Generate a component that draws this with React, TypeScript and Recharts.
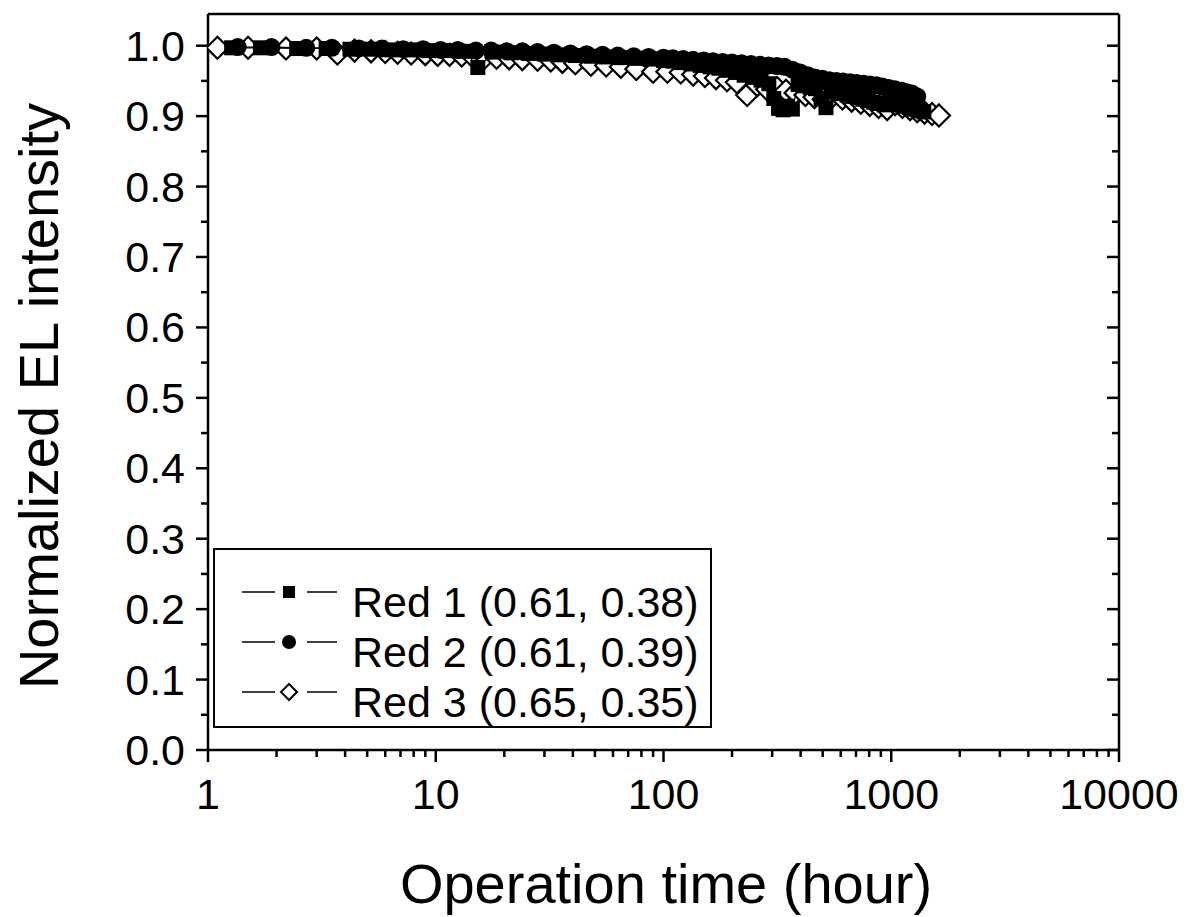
import React from 'react';
import { ScatterChart, Scatter, XAxis, YAxis, Legend } from 'recharts';

const FONT = '"Liberation Sans", Arial, Helvetica, sans-serif';

// Red 1 (filled squares)
const RED1_T = [1.27, 1.7, 2.45, 3.3, 4.2, 5.2, 6.4, 7.8, 9.5, 11.5, 13.5, 15.3, 18, 21.5, 25.5, 30, 35, 41, 48, 56, 65, 75, 87, 100, 110, 120, 132, 145, 160, 175, 190, 208, 226, 246, 268, 290, 305, 320, 335, 350, 368, 390, 415, 440, 465, 492, 517, 545, 575, 605, 640, 675, 710, 750, 790, 835, 880, 930, 980, 1030, 1085, 1140, 1200, 1260, 1320, 1390];
const RED1_V = [0.997, 0.997, 0.996, 0.996, 0.995, 0.995, 0.994, 0.994, 0.993, 0.993, 0.992, 0.969, 0.991, 0.99, 0.989, 0.988, 0.987, 0.986, 0.985, 0.984, 0.983, 0.982, 0.981, 0.979, 0.978, 0.976, 0.974, 0.972, 0.97, 0.968, 0.965, 0.962, 0.958, 0.955, 0.951, 0.946, 0.925, 0.911, 0.909, 0.914, 0.91, 0.945, 0.943, 0.941, 0.939, 0.925, 0.912, 0.936, 0.934, 0.932, 0.93, 0.928, 0.926, 0.924, 0.922, 0.92, 0.918, 0.916, 0.92, 0.918, 0.916, 0.914, 0.912, 0.91, 0.908, 0.906];

// Red 2 (filled circles)
const RED2_T = [1.35, 1.9, 2.7, 3.5, 4.6, 5.8, 7.2, 8.8, 10.5, 12.5, 15, 17.5, 20.5, 24, 28, 33, 39, 46, 54, 63, 74, 86, 100, 110, 122, 135, 150, 165, 182, 200, 220, 242, 265, 290, 315, 340, 368, 398, 430, 462, 498, 535, 575, 615, 660, 705, 755, 805, 860, 915, 975, 1040, 1110, 1170, 1233, 1300];
const RED2_V = [0.998, 0.998, 0.997, 0.997, 0.996, 0.996, 0.995, 0.995, 0.994, 0.994, 0.993, 0.993, 0.992, 0.992, 0.991, 0.99, 0.989, 0.988, 0.987, 0.986, 0.985, 0.984, 0.983, 0.982, 0.981, 0.98, 0.979, 0.978, 0.977, 0.976, 0.975, 0.974, 0.973, 0.972, 0.971, 0.97, 0.966, 0.962, 0.958, 0.955, 0.953, 0.951, 0.95, 0.949, 0.948, 0.947, 0.946, 0.945, 0.944, 0.942, 0.94, 0.938, 0.936, 0.934, 0.932, 0.928];

// Red 3 (open diamonds)
const RED3_T = [1.1, 1.5, 2.2, 3.0, 3.7, 4.4, 5.2, 6.0, 6.8, 7.8, 9.0, 10.2, 11.5, 13, 14.5, 16.5, 18.5, 21, 24, 28, 32, 36, 41, 48, 56, 65, 76, 90, 104, 119, 135, 152, 170, 190, 210, 233, 258, 285, 315, 345, 380, 420, 460, 505, 555, 610, 670, 735, 805, 880, 960, 1040, 1120, 1210, 1300, 1400, 1510, 1620];
const RED3_V = [0.997, 0.997, 0.996, 0.996, 0.989, 0.993, 0.992, 0.991, 0.99, 0.989, 0.988, 0.987, 0.987, 0.986, 0.985, 0.984, 0.983, 0.982, 0.981, 0.98, 0.979, 0.977, 0.975, 0.973, 0.972, 0.97, 0.967, 0.963, 0.963, 0.962, 0.959, 0.957, 0.954, 0.951, 0.948, 0.93, 0.944, 0.938, 0.94, 0.936, 0.933, 0.93, 0.927, 0.924, 0.929, 0.925, 0.922, 0.919, 0.916, 0.913, 0.91, 0.917, 0.913, 0.91, 0.907, 0.905, 0.903, 0.901];

const SERIES_NAMES = ['Red 1 (0.61, 0.38)', 'Red 2 (0.61, 0.39)', 'Red 3 (0.65, 0.35)'];

const X_MAJOR = [1, 10, 100, 1000, 10000];
const Y_TICKS = [0, 0.05, 0.1, 0.15, 0.2, 0.25, 0.3, 0.35, 0.4, 0.45, 0.5, 0.55, 0.6, 0.65, 0.7, 0.75, 0.8, 0.85, 0.9, 0.95, 1.0];

const X_DOMAIN = [1, 10000];
const Y_DOMAIN = [0, 1.045];

// log minor ticks 2..9 in each decade
const X_TICKS: number[] = [];
X_MAJOR.forEach((d, i) => {
  X_TICKS.push(d);
  if (i < X_MAJOR.length - 1) for (let k = 2; k <= 9; k++) X_TICKS.push(d * k);
});

const zip = (t: number[], v: number[]) => t.map((x, i) => ({ x, y: v[i] }));
const red1 = zip(RED1_T, RED1_V);
const red2 = zip(RED2_T, RED2_V);
const red3 = zip(RED3_T, RED3_V);

const isMajorX = (v: number) => Math.abs(Math.log10(v) - Math.round(Math.log10(v))) < 1e-9;
const isMajorY = (v: number) => Math.round(v * 100) % 10 === 0;

const MAJOR = 12;
const MINOR = 7;
const TW = 2.5;

const BottomTick = ({ x, y, payload }: any) => {
  const major = isMajorX(payload.value);
  return (
    <g>
      <line x1={x} x2={x} y1={y} y2={y + (major ? MAJOR : MINOR)} stroke="#000" strokeWidth={TW} />
      {major && (
        <text x={x} y={y + 59} textAnchor="middle" fontSize={43} fontFamily={FONT} fill="#000">
          {payload.value}
        </text>
      )}
    </g>
  );
};

const TopTick = ({ x, y, payload }: any) => {
  const major = isMajorX(payload.value);
  return <line x1={x} x2={x} y1={y} y2={y + (major ? MAJOR : MINOR)} stroke="#000" strokeWidth={TW} />;
};

const LeftTick = ({ x, y, payload }: any) => {
  const major = isMajorY(payload.value);
  return (
    <g>
      <line x1={x} x2={x - (major ? MAJOR : MINOR)} y1={y} y2={y} stroke="#000" strokeWidth={TW} />
      {major && (
        <text x={x - 23} y={y + 15} textAnchor="end" fontSize={43} fontFamily={FONT} fill="#000">
          {payload.value.toFixed(1)}
        </text>
      )}
    </g>
  );
};

const RightTick = ({ x, y, payload }: any) => {
  const major = isMajorY(payload.value);
  return <line x1={x} x2={x - (major ? MAJOR : MINOR)} y1={y} y2={y} stroke="#000" strokeWidth={TW} />;
};

const SquareDot = ({ cx, cy }: any) => <rect x={cx - 7.5} y={cy - 7.5} width={15} height={15} fill="#000" />;
const CircleDot = ({ cx, cy }: any) => <circle cx={cx} cy={cy} r={9} fill="#000" />;
const DiamondDot = ({ cx, cy }: any) => (
  <path d={`M${cx},${cy - 11}L${cx + 11},${cy}L${cx},${cy + 11}L${cx - 11},${cy}Z`} fill="#fff" stroke="#000" strokeWidth={2.2} />
);

const LegendBox = () => {
  const markers = [
    (cx: number, cy: number) => <rect x={cx - 6} y={cy - 6} width={12} height={12} fill="#000" />,
    (cx: number, cy: number) => <circle cx={cx} cy={cy} r={7} fill="#000" />,
    (cx: number, cy: number) => (
      <path d={`M${cx},${cy - 8}L${cx + 8},${cy}L${cx},${cy + 8}L${cx - 8},${cy}Z`} fill="#fff" stroke="#000" strokeWidth={2} />
    ),
  ];
  return (
    <svg width={499} height={180} style={{ display: 'block' }}>
      <rect x={1} y={1} width={497} height={178} fill="#fff" stroke="#000" strokeWidth={2} />
      {SERIES_NAMES.map((name, i) => {
        const base = 69 + i * 50;
        const my = base - 25;
        return (
          <g key={name}>
            <line x1={29} x2={62} y1={my} y2={my} stroke="#000" strokeWidth={1.5} />
            {markers[i](76, my)}
            <line x1={94} x2={124} y1={my} y2={my} stroke="#000" strokeWidth={1.5} />
            <text x={139} y={base} fontSize={43} fontFamily={FONT} fill="#000">
              {name}
            </text>
          </g>
        );
      })}
    </svg>
  );
};

export default function App() {
  return (
    <div style={{ width: 1188, height: 909, background: '#fff' }}>
      <ScatterChart width={1188} height={909} margin={{ top: 0, right: 0, bottom: 0, left: 0 }}>
        <XAxis
          type="number"
          dataKey="x"
          scale="log"
          domain={X_DOMAIN}
          allowDataOverflow
          ticks={X_TICKS}
          interval={0}
          tickSize={0}
          tickMargin={0}
          tickLine={false}
          tick={<BottomTick />}
          axisLine={{ stroke: '#000', strokeWidth: 2.5 }}
          height={167}
          label={() => (
            <text x={658} y={895} textAnchor="middle" fontSize={56} fontFamily={FONT} fill="#000">
              Operation time (hour)
            </text>
          )}
        />
        <XAxis
          xAxisId="top"
          orientation="top"
          type="number"
          scale="log"
          domain={X_DOMAIN}
          allowDataOverflow
          ticks={X_TICKS}
          interval={0}
          tickSize={0}
          tickMargin={0}
          tickLine={false}
          tick={<TopTick />}
          axisLine={{ stroke: '#000', strokeWidth: 2.5 }}
          height={6}
        />
        <YAxis
          type="number"
          dataKey="y"
          domain={Y_DOMAIN}
          allowDataOverflow
          ticks={Y_TICKS}
          interval={0}
          tickSize={0}
          tickMargin={0}
          tickLine={false}
          tick={<LeftTick />}
          axisLine={{ stroke: '#000', strokeWidth: 2.5 }}
          width={200}
          label={() => (
            <text x={50} y={388} transform="rotate(-90, 50, 388)" textAnchor="middle" fontSize={56} fontFamily={FONT} fill="#000">
              Normalized EL intensity
            </text>
          )}
        />
        <YAxis
          yAxisId="right"
          orientation="right"
          type="number"
          domain={Y_DOMAIN}
          allowDataOverflow
          ticks={Y_TICKS}
          interval={0}
          tickSize={0}
          tickMargin={0}
          tickLine={false}
          tick={<RightTick />}
          axisLine={{ stroke: '#000', strokeWidth: 2.5 }}
          width={77}
        />
        <Legend
          layout="vertical"
          align="center"
          verticalAlign="middle"
          content={() => <LegendBox />}
          wrapperStyle={{ left: 205, top: 540, width: 499, height: 180 }}
        />
        <Scatter name={SERIES_NAMES[2]} data={red3} line={{ stroke: '#000', strokeWidth: 1.2 }} lineType="joint" shape={<DiamondDot />} isAnimationActive={false} />
        <Scatter name={SERIES_NAMES[0]} data={red1} line={{ stroke: '#000', strokeWidth: 1.2 }} lineType="joint" shape={<SquareDot />} isAnimationActive={false} />
        <Scatter name={SERIES_NAMES[1]} data={red2} line={{ stroke: '#000', strokeWidth: 1.2 }} lineType="joint" shape={<CircleDot />} isAnimationActive={false} />
      </ScatterChart>
    </div>
  );
}
